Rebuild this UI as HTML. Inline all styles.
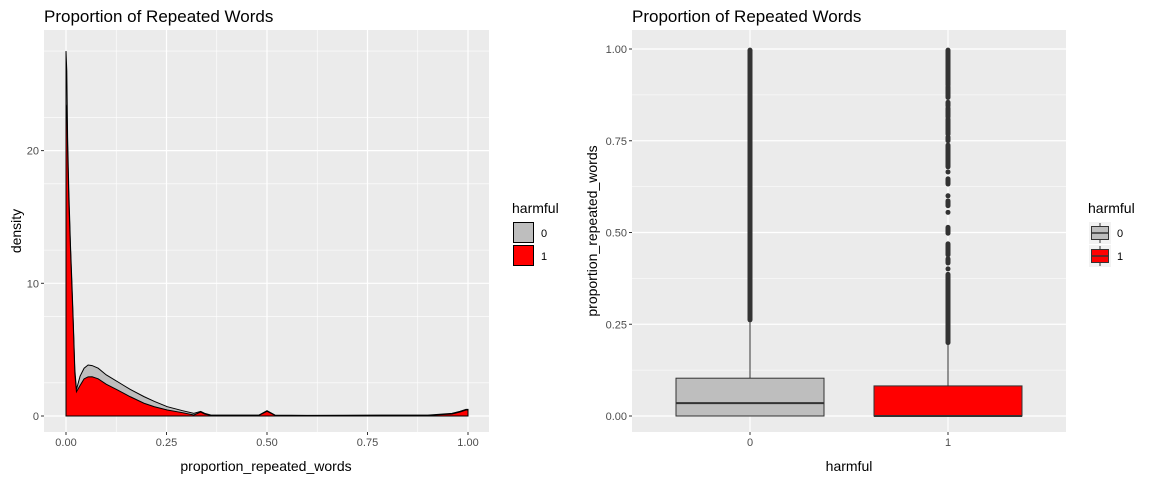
<!DOCTYPE html>
<html><head><meta charset="utf-8"><style>
body{margin:0;background:#fff;}
svg{display:block;font-family:"Liberation Sans",Arial,sans-serif;}
</style></head><body>
<svg id="svg" width="1152" height="480" viewBox="0 0 1152 480" xmlns="http://www.w3.org/2000/svg">
<g id="left"></g>
<g id="right"></g>
</svg>
<script>
// ---- density data ----
const densX = [0, 0.002, 0.004, 0.007, 0.011, 0.015, 0.018, 0.022, 0.026, 0.035, 0.045, 0.055, 0.065, 0.08, 0.1, 0.128, 0.16, 0.194, 0.22, 0.252, 0.29, 0.318, 0.335, 0.345, 0.36, 0.4, 0.48, 0.5, 0.52, 0.6, 0.8, 0.9, 0.96, 0.98, 0.995, 1.0];
const densRed = [23.5, 23.3, 20, 16.3, 12.7, 9.4, 6.9, 3.2, 1.83, 2.3, 2.8, 2.95, 2.96, 2.8, 2.4, 1.96, 1.45, 0.96, 0.7, 0.45, 0.25, 0.08, 0.3, 0.15, 0.05, 0.05, 0.05, 0.35, 0.05, 0.03, 0.05, 0.05, 0.15, 0.3, 0.45, 0.45];
const densTotal = [27.5, 26, 21, 17, 13, 9.8, 7.2, 3.5, 2.0, 3.0, 3.6, 3.84, 3.8, 3.6, 3.1, 2.59, 2.0, 1.46, 1.1, 0.7, 0.4, 0.2, 0.35, 0.2, 0.08, 0.07, 0.07, 0.4, 0.07, 0.05, 0.07, 0.07, 0.2, 0.35, 0.5, 0.5];
const densXTicks = [0, 0.25, 0.5, 0.75, 1];
const densXTickLabels = ["0.00", "0.25", "0.50", "0.75", "1.00"];
const densYTicks = [0, 10, 20];
// ---- boxplot data ----
const boxCats = ["0", "1"];
const boxQ1 = [0, 0];
const boxMed = [0.035, 0];
const boxQ3 = [0.103, 0.082];
const boxWhiskLo = [0, 0];
const boxWhiskHi = [0.26, 0.2];
const boxFill = ["#bebebe", "#ff0000"];
const outRuns0 = [[0.262, 0.997]];
const outRuns1 = [[0.2, 0.386], [0.401, 0.401], [0.417, 0.428], [0.439, 0.469], [0.498, 0.514], [0.555, 0.555], [0.573, 0.586], [0.6, 0.6], [0.632, 0.646], [0.665, 0.665], [0.679, 0.738], [0.75, 0.76], [0.768, 0.809], [0.815, 0.839], [0.845, 0.855], [0.868, 0.897], [0.902, 0.997]];
const boxYTicks = [0, 0.25, 0.5, 0.75, 1];
const boxYTickLabels = ["0.00", "0.25", "0.50", "0.75", "1.00"];

const NS = "http://www.w3.org/2000/svg";
function mk(parent, tag, attrs, text) {
  const e = document.createElementNS(NS, tag);
  for (const k in attrs) e.setAttribute(k, attrs[k]);
  if (text !== undefined) e.textContent = text;
  parent.appendChild(e);
  return e;
}

// ===== LEFT =====
const L = document.getElementById('left');
const lp = {x0: 44, x1: 489, y0: 30, y1: 432};
const lx = v => 66 + v * 402;
const ly = v => 416 - v * 13.27;
let e = mk(L, 'rect', {x: lp.x0, y: lp.y0, width: lp.x1 - lp.x0, height: lp.y1 - lp.y0, fill: '#ebebeb'});


[2.5, 7.5, 12.5, 17.5, 22.5, 27.5].forEach(v => { if (ly(v) > lp.y0) mk(L, 'line', {x1: lp.x0, x2: lp.x1, y1: ly(v), y2: ly(v), stroke: '#fff', 'stroke-width': 0.6}); });
[0.125, 0.375, 0.625, 0.875].forEach(v => mk(L, 'line', {x1: lx(v), x2: lx(v), y1: lp.y0, y2: lp.y1, stroke: '#fff', 'stroke-width': 0.6}));
densYTicks.forEach(v => mk(L, 'line', {x1: lp.x0, x2: lp.x1, y1: ly(v), y2: ly(v), stroke: '#fff', 'stroke-width': 1.2}));
densXTicks.forEach(v => mk(L, 'line', {x1: lx(v), x2: lx(v), y1: lp.y0, y2: lp.y1, stroke: '#fff', 'stroke-width': 1.2}));
function areaPath(vals) {
  let d = 'M' + lx(densX[0]) + ',' + ly(0);
  densX.forEach((x, i) => { d += ' L' + lx(x).toFixed(2) + ',' + ly(vals[i]).toFixed(2); });
  d += ' L' + lx(densX[densX.length - 1]) + ',' + ly(0) + ' Z';
  return d;
}
e = mk(L, 'path', {d: areaPath(densTotal), fill: '#bebebe', stroke: '#000', 'stroke-width': 1});


e = mk(L, 'path', {d: areaPath(densRed), fill: '#ff0000', stroke: '#000', 'stroke-width': 1});


densYTicks.forEach(v => {
  mk(L, 'line', {x1: lp.x0 - 3, x2: lp.x0, y1: ly(v), y2: ly(v), stroke: '#333'});
  const t = mk(L, 'text', {x: lp.x0 - 5, y: ly(v) + 4, 'text-anchor': 'end', 'font-size': 11, fill: '#4d4d4d'}, String(v));
  
  
});
densXTicks.forEach((v, i) => {
  mk(L, 'line', {x1: lx(v), x2: lx(v), y1: lp.y1, y2: lp.y1 + 3, stroke: '#333'});
  const t = mk(L, 'text', {x: lx(v), y: lp.y1 + 14, 'text-anchor': 'middle', 'font-size': 11, fill: '#4d4d4d'}, densXTickLabels[i]);
  
  
});
e = mk(L, 'text', {x: 266, y: 471, 'text-anchor': 'middle', 'font-size': 14, fill: '#000'}, 'proportion_repeated_words');


e = mk(L, 'text', {x: 21, y: 231, 'text-anchor': 'middle', 'font-size': 14, fill: '#000', transform: 'rotate(-90 21 231)'}, 'density');


e = mk(L, 'text', {x: 44, y: 22, 'font-size': 17, fill: '#000'}, 'Proportion of Repeated Words');


e = mk(L, 'text', {x: 512, y: 213, 'font-size': 14, fill: '#000'}, 'harmful');


boxCats.forEach((c, i) => {
  const y = 222 + i * 23;
  const r = mk(L, 'rect', {x: 513.5, y: y + 0.5, width: 20, height: 20, fill: boxFill[i], stroke: '#000', 'stroke-width': 1});
  
  
  const t = mk(L, 'text', {x: 541, y: y + 15, 'font-size': 11, fill: '#000'}, c);
  
  
});

// ===== RIGHT =====
const R = document.getElementById('right');
const rp = {x0: 632, x1: 1066, y0: 30, y1: 432};
const rx = i => 750 + i * 198;
const ry = v => 416 - v * 367;
e = mk(R, 'rect', {x: rp.x0, y: rp.y0, width: rp.x1 - rp.x0, height: rp.y1 - rp.y0, fill: '#ebebeb'});


[0.125, 0.375, 0.625, 0.875].forEach(v => mk(R, 'line', {x1: rp.x0, x2: rp.x1, y1: ry(v), y2: ry(v), stroke: '#fff', 'stroke-width': 0.6}));
boxYTicks.forEach(v => mk(R, 'line', {x1: rp.x0, x2: rp.x1, y1: ry(v), y2: ry(v), stroke: '#fff', 'stroke-width': 1.2}));
boxCats.forEach((c, i) => mk(R, 'line', {x1: rx(i), x2: rx(i), y1: rp.y0, y2: rp.y1, stroke: '#fff', 'stroke-width': 1.2}));
const outRuns = [outRuns0, outRuns1];
boxCats.forEach((c, i) => {
  const cx = rx(i);
  const g = mk(R, 'g', {});
  
  
  mk(g, 'line', {x1: cx, x2: cx, y1: ry(boxQ3[i]), y2: ry(boxWhiskHi[i]), stroke: '#333'});
  mk(g, 'line', {x1: cx, x2: cx, y1: ry(boxQ1[i]), y2: ry(boxWhiskLo[i]), stroke: '#333'});
  outRuns[i].forEach(run => {
    const o = mk(g, 'line', {x1: cx, x2: cx, y1: ry(run[0]), y2: ry(run[1]), stroke: '#333', 'stroke-width': 5, 'stroke-linecap': 'round'});
    
    
  });
  mk(g, 'rect', {x: cx - 74, y: ry(boxQ3[i]), width: 148, height: ry(boxQ1[i]) - ry(boxQ3[i]), fill: boxFill[i], stroke: '#333', 'stroke-width': 1});
  mk(g, 'line', {x1: cx - 74, x2: cx + 74, y1: ry(boxMed[i]), y2: ry(boxMed[i]), stroke: '#333', 'stroke-width': 2});
  mk(R, 'line', {x1: cx, x2: cx, y1: rp.y1, y2: rp.y1 + 3, stroke: '#333'});
  const t = mk(R, 'text', {x: cx, y: rp.y1 + 14, 'text-anchor': 'middle', 'font-size': 11, fill: '#4d4d4d'}, c);
  
  
});
boxYTicks.forEach((v, i) => {
  mk(R, 'line', {x1: rp.x0 - 3, x2: rp.x0, y1: ry(v), y2: ry(v), stroke: '#333'});
  const t = mk(R, 'text', {x: rp.x0 - 5, y: ry(v) + 4, 'text-anchor': 'end', 'font-size': 11, fill: '#4d4d4d'}, boxYTickLabels[i]);
  
  
});
e = mk(R, 'text', {x: 849, y: 471, 'text-anchor': 'middle', 'font-size': 14, fill: '#000'}, 'harmful');


e = mk(R, 'text', {x: 597, y: 231, 'text-anchor': 'middle', 'font-size': 14, fill: '#000', transform: 'rotate(-90 597 231)'}, 'proportion_repeated_words');


e = mk(R, 'text', {x: 632, y: 22, 'font-size': 17, fill: '#000'}, 'Proportion of Repeated Words');


e = mk(R, 'text', {x: 1088, y: 213, 'font-size': 14, fill: '#000'}, 'harmful');


boxCats.forEach((c, i) => {
  const y = 222 + i * 23;
  const g = mk(R, 'g', {});
  
  
  mk(g, 'rect', {x: 1089, y: y, width: 22, height: 22, fill: '#f2f2f2'});
  mk(g, 'line', {x1: 1100, x2: 1100, y1: y + 1, y2: y + 21, stroke: '#333'});
  mk(g, 'rect', {x: 1091.5, y: y + 4.5, width: 17, height: 13, fill: boxFill[i], stroke: '#333'});
  mk(g, 'line', {x1: 1091.5, x2: 1108.5, y1: y + 11, y2: y + 11, stroke: '#333', 'stroke-width': 1.5});
  const t = mk(R, 'text', {x: 1117, y: y + 15, 'font-size': 11, fill: '#000'}, c);
  
  
});
</script>
</body></html>
